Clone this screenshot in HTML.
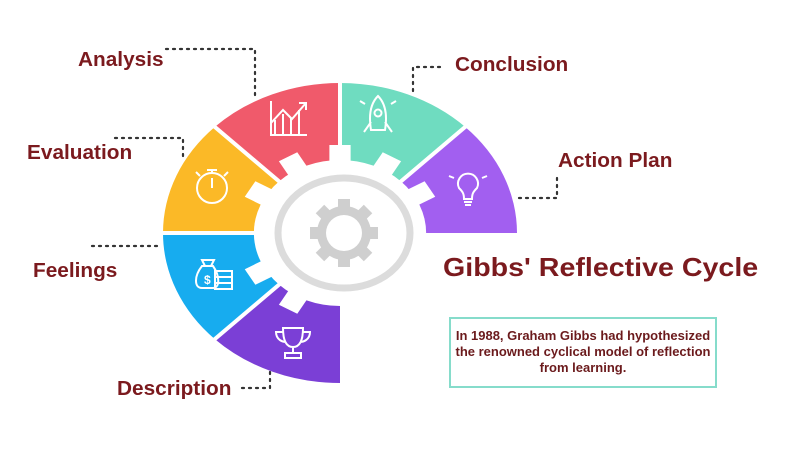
<!DOCTYPE html>
<html><head><meta charset="utf-8"><style>
html,body{margin:0;padding:0;background:#fff;}
body{width:800px;height:454px;overflow:hidden;position:relative;font-family:"Liberation Sans",sans-serif;}
.l{position:absolute;color:#7b1a1e;font-weight:bold;font-size:20px;line-height:1;white-space:nowrap;transform-origin:0 0;transform:scaleX(1.04);}
</style></head><body>
<svg width="800" height="454" style="position:absolute;left:0;top:0">
<g transform="translate(340,233) scale(1.18,1)">
<path fill="#7b3fd6" d="M0,55 L0,150 A150,150 0 0 1 -106.07,106.07 L-38.89,38.89 A55,55 0 0 0 0,55Z"/>
<path fill="#17acef" d="M-38.89,38.89 L-106.07,106.07 A150,150 0 0 1 -150,0 L-55,0 A55,55 0 0 0 -38.89,38.89Z"/>
<path fill="#fbb927" d="M-55,0 L-150,0 A150,150 0 0 1 -106.07,-106.07 L-38.89,-38.89 A55,55 0 0 0 -55,0Z"/>
<path fill="#f05a6b" d="M-38.89,-38.89 L-106.07,-106.07 A150,150 0 0 1 0,-150 L0,-55 A55,55 0 0 0 -38.89,-38.89Z"/>
<path fill="#6fdcc0" d="M0,-55 L0,-150 A150,150 0 0 1 106.07,-106.07 L38.89,-38.89 A55,55 0 0 0 0,-55Z"/>
<path fill="#a25ff0" d="M38.89,-38.89 L106.07,-106.07 A150,150 0 0 1 150,0 L55,0 A55,55 0 0 0 38.89,-38.89Z"/>
<g stroke="#fff" stroke-width="4">
<line x1="0" y1="0" x2="0" y2="-155" vector-effect="non-scaling-stroke"/>
<line x1="0" y1="0" x2="-110" y2="-110" vector-effect="non-scaling-stroke"/>
<line x1="0" y1="0" x2="110" y2="-110" vector-effect="non-scaling-stroke"/>
<line x1="0" y1="0" x2="-155" y2="0" vector-effect="non-scaling-stroke"/>
<line x1="0" y1="0" x2="-110" y2="110" vector-effect="non-scaling-stroke"/>
</g>
<g fill="#fff">
<circle r="73"/>
<rect x="60" y="-9" width="28" height="18" transform="rotate(30)"/>
<rect x="60" y="-9" width="28" height="18" transform="rotate(60)"/>
<rect x="60" y="-9" width="28" height="18" transform="rotate(120)"/>
<rect x="60" y="-9" width="28" height="18" transform="rotate(150)"/>
<rect x="60" y="-9" width="28" height="18" transform="rotate(210)"/>
<rect x="60" y="-9" width="28" height="18" transform="rotate(240)"/>
<rect x="60" y="-9" width="28" height="18" transform="rotate(270)"/>
<rect x="60" y="-9" width="28" height="18" transform="rotate(300)"/>
<rect x="60" y="-9" width="28" height="18" transform="rotate(330)"/>
</g>
</g>
<ellipse cx="344" cy="233" rx="66" ry="55" fill="none" stroke="#dcdcdc" stroke-width="7"/>
<g transform="translate(344,233)" fill="#cfcfcf">
<circle r="27"/>
<rect x="-6" y="-34" width="12" height="12"/><rect x="-6" y="22" width="12" height="12"/><rect x="-34" y="-6" width="12" height="12"/><rect x="22" y="-6" width="12" height="12"/>
<rect x="-6" y="-34" width="12" height="12" transform="rotate(45)"/><rect x="-6" y="-34" width="12" height="12" transform="rotate(135)"/><rect x="-6" y="-34" width="12" height="12" transform="rotate(225)"/><rect x="-6" y="-34" width="12" height="12" transform="rotate(315)"/>
<circle r="18" fill="#fff"/>
</g>
<g fill="none" stroke="#fff" stroke-width="2">
<path d="M271,101 V135 H307 M275,135 V120 M283,135 V114 M291,135 V118 M299,135 V110 M271,123 L283,110 L292,119 L306,103 M299,103 H306 V110"/>
<path d="M378,96 C369,105 369,118 371,130 H385 C387,118 387,105 378,96Z M371,122 L364,132 M385,122 L392,132 M365,104 L360,101 M391,104 L396,101"/><circle cx="378" cy="113" r="3.5"/>
<circle cx="212" cy="188" r="15"/><path d="M212,188 V178 M207,170 H217 M212,170 V173 M200,176 L196,172 M224,176 L228,172"/>
<path d="M459,188 A10,10 0 1 1 477,188 C473,192 472,194 472,199 H464 C464,194 463,192 459,188Z M464,202 H472 M465,205 H471 M454,178 L449,176 M482,178 L487,176"/>
<path d="M202,288 C194,288 194,276 202,266 H213 C220,276 220,288 213,288Z M205,266 L202,260 H214 L211,266"/><rect x="215" y="271" width="17" height="18"/><path d="M215,277 H232 M215,283 H232"/>
<path d="M283,328 H303 C303,342 299,347 293,347 C287,347 283,342 283,328Z M283,332 H276 C276,340 283,342 286,342 M303,332 H310 C310,340 303,342 300,342 M293,347 V353 M285,358 H301 V353 H285Z"/>
</g>
<text x="204" y="284" fill="#fff" font-family="Liberation Sans" font-weight="bold" font-size="12">$</text>
<g fill="none" stroke="#333" stroke-width="2.2" stroke-dasharray="2,5" stroke-linecap="round">
<path d="M166,49 H255 V96"/>
<path d="M115,138 H183 V160"/>
<path d="M92,246 H158"/>
<path d="M242,388 H270 V370"/>
<path d="M440,67 H413 V95"/>
<path d="M519,198 H557 V176"/>
</g>
<rect x="450" y="318" width="266" height="69" fill="none" stroke="#86dccb" stroke-width="2"/>
</svg>
<div class="l" style="left:78px;top:50px">Analysis</div>
<div class="l" style="left:27px;top:143px">Evaluation</div>
<div class="l" style="left:33px;top:261px">Feelings</div>
<div class="l" style="left:117px;top:379px">Description</div>
<div class="l" style="left:455px;top:55px">Conclusion</div>
<div class="l" style="left:558px;top:151px">Action Plan</div>
<div class="l" style="left:443px;top:254px;font-size:26px;transform:scaleX(1.1)">Gibbs' Reflective Cycle</div>
<div style="position:absolute;left:449px;top:328px;width:268px;text-align:center;color:#6b1a1c;font-size:13px;line-height:16px;font-weight:bold">In 1988, Graham Gibbs had hypothesized the renowned cyclical model of reflection from learning.</div>
</body></html>
